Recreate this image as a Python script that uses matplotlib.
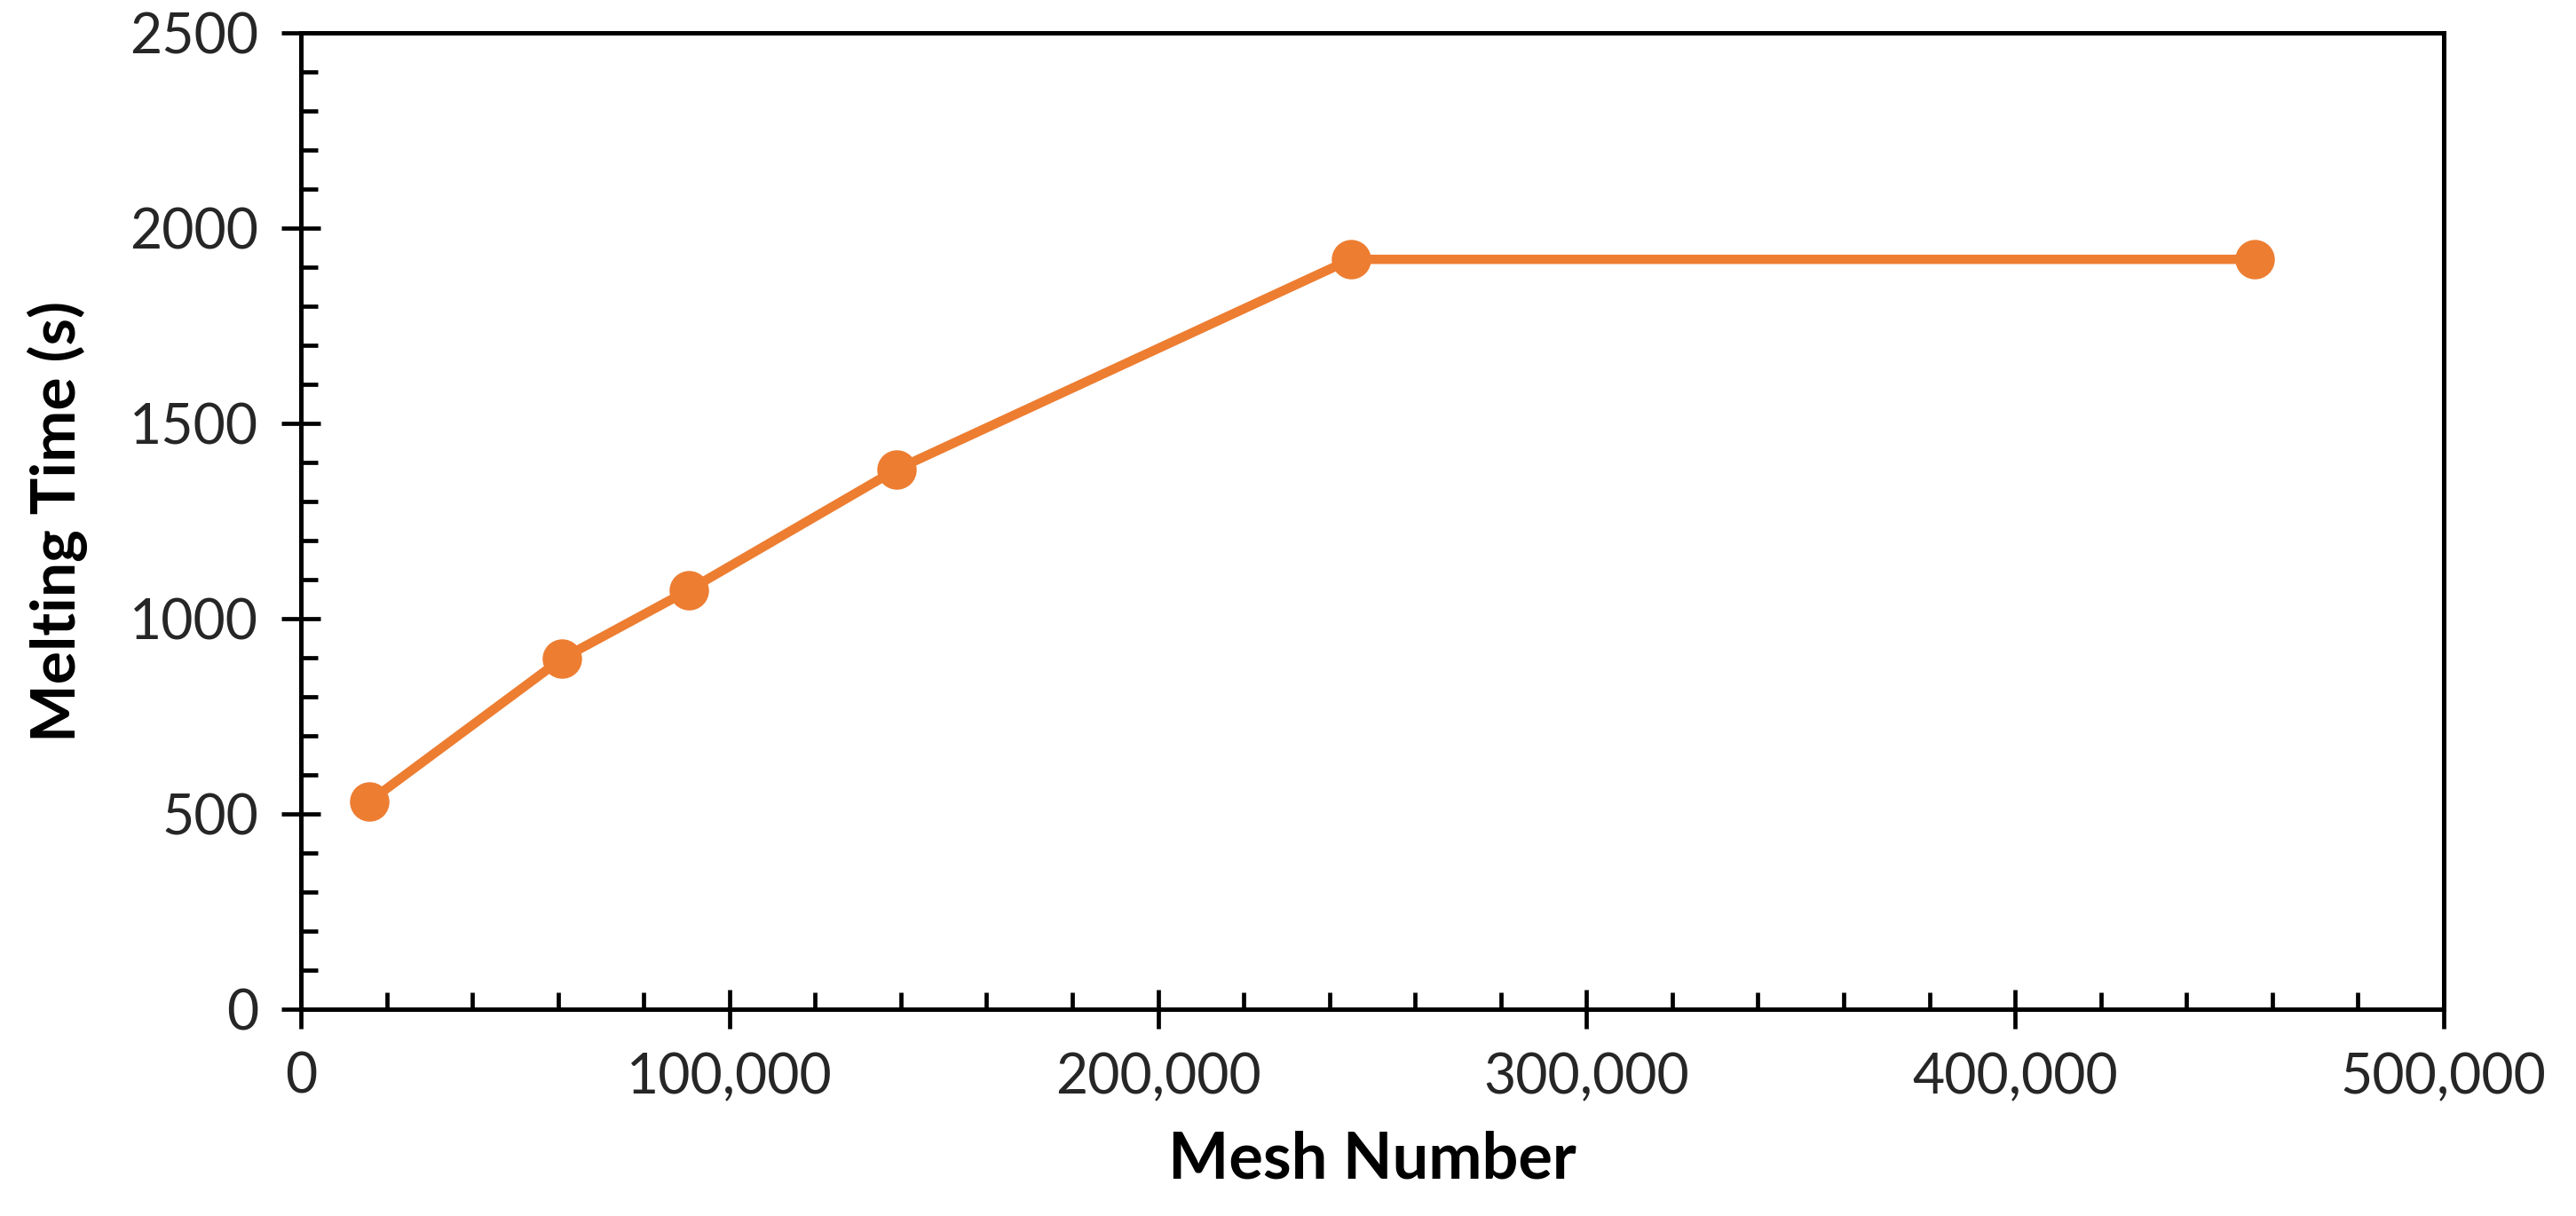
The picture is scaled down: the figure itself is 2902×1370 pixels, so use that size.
import matplotlib
matplotlib.use("Agg")
import matplotlib.pyplot as plt
from matplotlib.ticker import MultipleLocator, FuncFormatter

# Data
mesh_number = [16000, 61000, 90500, 139000, 245000, 456000]
melting_time = [532, 898, 1073, 1382, 1920, 1920]

x_label = "Mesh Number"
y_label = "Melting Time (s)"

plt.rcParams['font.family'] = ['Lato', 'DejaVu Sans']

fig = plt.figure(figsize=(29.02, 13.70), dpi=100)
ax = fig.add_axes([0.1168, 0.1701, 0.8318, 0.8029])

color = '#ED7D31'
ax.plot(mesh_number, melting_time, color=color, linewidth=7.6,
        marker='o', markersize=31, markerfacecolor=color,
        markeredgecolor=color, solid_capstyle='butt', zorder=3)

ax.set_xlim(0, 500000)
ax.set_ylim(0, 2500)
ax.xaxis.set_major_locator(MultipleLocator(100000))
ax.xaxis.set_minor_locator(MultipleLocator(20000))
ax.yaxis.set_major_locator(MultipleLocator(500))
ax.yaxis.set_minor_locator(MultipleLocator(100))
ax.xaxis.set_major_formatter(FuncFormatter(lambda v, p: f"{v:,.0f}"))
ax.yaxis.set_major_formatter(FuncFormatter(lambda v, p: f"{v:.0f}"))

for s in ax.spines.values():
    s.set_linewidth(3.6)
    s.set_color('black')

ax.tick_params(which='major', direction='inout', length=31, width=3.4,
               labelsize=45, pad=19, colors='black', labelcolor='#262626')
ax.tick_params(which='minor', direction='in', length=14, width=3.4)
ax.tick_params(top=False, right=False, which='both')

ax.set_xlabel(x_label, fontsize=52, fontweight='bold', va='center')
ax.set_ylabel(y_label, fontsize=50, fontweight='bold', va='center')
ax.xaxis.set_label_coords(0.5, -0.1545)
ax.yaxis.set_label_coords(-0.1135, 0.5)

fig.savefig("out.png", dpi=100, facecolor='white')
